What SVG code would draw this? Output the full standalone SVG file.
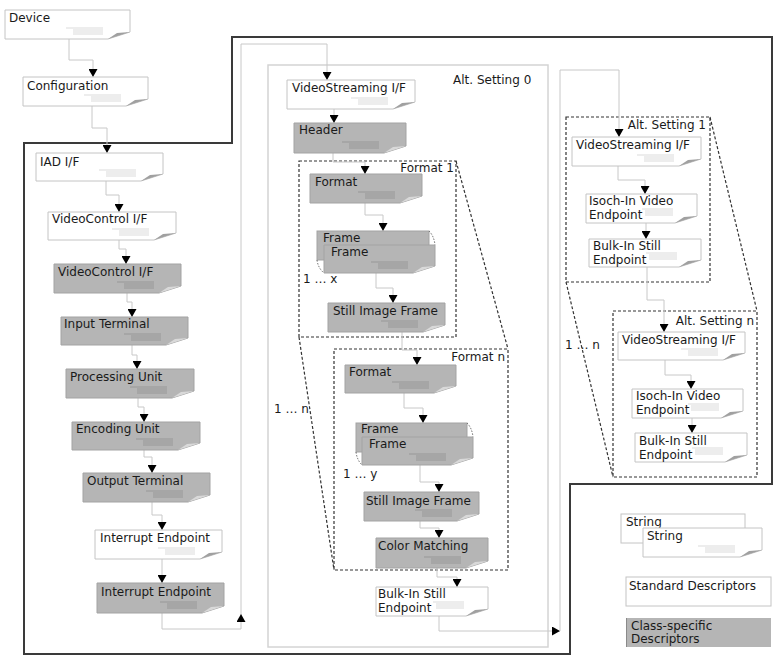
<svg xmlns="http://www.w3.org/2000/svg" width="777" height="659" viewBox="0 0 777 659">
<defs>
<style>
.t{font-family:"DejaVu Sans",Verdana,sans-serif;font-size:12px;fill:#1a1a1a}
.w{fill:#fff;stroke:#c4c4c4;stroke-width:1}
.g{fill:#b5b5b5;stroke:#a3a3a3;stroke-width:1}
.fw{fill:#a0a0a0}
.fg{fill:#d9d9d9}
.sw{fill:none;stroke:#c4c4c4;stroke-width:0.6}
.sg{fill:none;stroke:#858585;stroke-width:0.6}
.c{fill:none;stroke:#c8c8c8;stroke-width:1}
.d{fill:none;stroke:#333;stroke-width:1.2;stroke-dasharray:3 2}
.dt{fill:none;stroke:#444;stroke-width:0.8;stroke-dasharray:1.5 1.5}
</style>
<marker id="arr" viewBox="0 0 8 9" refX="8" refY="4.5" markerWidth="8" markerHeight="9" markerUnits="userSpaceOnUse" orient="auto">
<path d="M0,0 L8,4.5 L0,9 Z" fill="#000"/>
</marker>
</defs>
<rect x="0" y="0" width="777" height="659" fill="#fff"/>

<g id="frames">
<path d="M24 143 H232 V37 H772 V484 H570 V654 H24 Z" fill="none" stroke="#3a3a3a" stroke-width="2"/>
<rect x="268" y="65" width="280" height="582" fill="none" stroke="#d4d4d4" stroke-width="1.5"/>
<rect class="d" x="299" y="161" width="157" height="176"/>
<rect class="d" x="334" y="349" width="174" height="221"/>
<rect class="d" x="566" y="117" width="144" height="165"/>
<rect class="d" x="613" y="311" width="144" height="166"/>
<path class="d" d="M456 161 L508 349 M299 337 L334 570 M710 117 L757 311 M566 282 L613 477"/>
<text class="t" x="453" y="84">Alt. Setting 0</text>
<text class="t" x="454" y="172" text-anchor="end">Format 1</text>
<text class="t" x="505" y="361" text-anchor="end">Format n</text>
<text class="t" x="706" y="129" text-anchor="end">Alt. Setting 1</text>
<text class="t" x="754" y="325" text-anchor="end">Alt. Setting n</text>
<text class="t" x="274" y="413">1 … n</text>
<text class="t" x="565" y="349">1 … n</text>
<text class="t" x="303" y="283">1 … x</text>
<text class="t" x="343" y="478">1 … y</text>
</g>

<g id="connectors">
<path class="c" marker-end="url(#arr)" d="M69 39 V60 H93 V77"/>
<path class="c" marker-end="url(#arr)" d="M92 106 V128 H107 V153"/>
<path class="c" marker-end="url(#arr)" d="M106 181 V195 H119 V212"/>
<path class="c" marker-end="url(#arr)" d="M119 240 V249 H126 V264"/>
<path class="c" marker-end="url(#arr)" d="M127 293 V302 H132 V317"/>
<path class="c" marker-end="url(#arr)" d="M132 345 V355 H137 V369"/>
<path class="c" marker-end="url(#arr)" d="M138 398 V407 H144 V422"/>
<path class="c" marker-end="url(#arr)" d="M144 450 V457 H152 V473"/>
<path class="c" marker-end="url(#arr)" d="M152 502 V515 H162 V530"/>
<path class="c" marker-end="url(#arr)" d="M162 559 V583"/>
<path class="c" marker-end="url(#arr)" d="M162 613 V629 H241 V614"/>
<path class="c" marker-end="url(#arr)" d="M241 614 V44 H327 V80"/>
<path class="c" marker-end="url(#arr)" d="M334 109 V123"/>
<path class="c" marker-end="url(#arr)" d="M333 153 V162 H365 V174"/>
<path class="c" marker-end="url(#arr)" d="M365 203 V215 H383 V231"/>
<path class="c" marker-end="url(#arr)" d="M376 273 V288 H393 V303"/>
<path class="c" marker-end="url(#arr)" d="M402 332 V350 H417 V365"/>
<path class="c" marker-end="url(#arr)" d="M404 393 V408 H423 V423"/>
<path class="c" marker-end="url(#arr)" d="M420 465 V482 H439 V492"/>
<path class="c" marker-end="url(#arr)" d="M420 521 V528 H439 V538"/>
<path class="c" marker-end="url(#arr)" d="M437 568 V577 H457 V587"/>
<path class="c" marker-end="url(#arr)" d="M439 616 V631 H560"/>
<path class="c" marker-end="url(#arr)" d="M560 631 V70 H619 V137"/>
<path class="c" marker-end="url(#arr)" d="M618 166 V180 H645 V194"/>
<path class="c" marker-end="url(#arr)" d="M646 223 V239"/>
<path class="c" marker-end="url(#arr)" d="M647 267 V300 H664 V332"/>
<path class="c" marker-end="url(#arr)" d="M665 360 V375 H691 V389"/>
<path class="c" marker-end="url(#arr)" d="M692 418 V433"/>
</g>

<g id="device">
<path class="w" d="M5 10 H130 V32 L108 39 H5 Z"/><path class="fw" d="M108 39 L117 33 L130 32 Z"/>
<path class="sw" d="M66 28 H103 M73 30 H103 M73 32 H103 M73 34 H103"/>
<text class="t" x="9" y="22">Device</text>
</g>
<g id="configuration">
<path class="w" d="M23 77 H148 V99 L126 106 H23 Z"/><path class="fw" d="M126 106 L135 100 L148 99 Z"/>
<path class="sw" d="M84 95 H121 M91 97 H121 M91 99 H121 M91 101 H121"/>
<text class="t" x="27" y="90">Configuration</text>
</g>
<g id="iad">
<path class="w" d="M36 153 H163 V174 L141 181 H36 Z"/><path class="fw" d="M141 181 L150 175 L163 174 Z"/>
<path class="sw" d="M99 170 H136 M106 172 H136 M106 174 H136 M106 176 H136"/>
<text class="t" x="40" y="166">IAD I/F</text>
</g>
<g id="vc-std">
<path class="w" d="M48 212 H176 V233 L154 240 H48 Z"/><path class="fw" d="M154 240 L163 234 L176 233 Z"/>
<path class="sw" d="M112 229 H149 M119 231 H149 M119 233 H149 M119 235 H149"/>
<text class="t" x="52" y="223">VideoControl I/F</text>
</g>
<g id="vc-cs">
<path class="g" d="M54 264 H181 V286 L159 293 H54 Z"/><path class="fg" d="M159 293 L168 287 L181 286 Z"/>
<path class="sg" d="M117 282 H154 M124 284 H154 M124 286 H154 M124 288 H154"/>
<text class="t" x="58" y="276">VideoControl I/F</text>
</g>
<g id="input-terminal">
<path class="g" d="M61 317 H188 V338 L166 345 H61 Z"/><path class="fg" d="M166 345 L175 339 L188 338 Z"/>
<path class="sg" d="M124 334 H161 M131 336 H161 M131 338 H161 M131 340 H161"/>
<text class="t" x="64" y="328">Input Terminal</text>
</g>
<g id="processing-unit">
<path class="g" d="M66 369 H194 V391 L172 398 H66 Z"/><path class="fg" d="M172 398 L181 392 L194 391 Z"/>
<path class="sg" d="M130 387 H167 M137 389 H167 M137 391 H167 M137 393 H167"/>
<text class="t" x="70" y="381">Processing Unit</text>
</g>
<g id="encoding-unit">
<path class="g" d="M72 422 H200 V443 L178 450 H72 Z"/><path class="fg" d="M178 450 L187 444 L200 443 Z"/>
<path class="sg" d="M136 439 H173 M143 441 H173 M143 443 H173 M143 445 H173"/>
<text class="t" x="76" y="433">Encoding Unit</text>
</g>
<g id="output-terminal">
<path class="g" d="M83 473 H210 V495 L188 502 H83 Z"/><path class="fg" d="M188 502 L197 496 L210 495 Z"/>
<path class="sg" d="M146 491 H183 M153 493 H183 M153 495 H183 M153 497 H183"/>
<text class="t" x="87" y="485">Output Terminal</text>
</g>
<g id="interrupt-std">
<path class="w" d="M95 530 H222 V552 L200 559 H95 Z"/><path class="fw" d="M200 559 L209 553 L222 552 Z"/>
<path class="sw" d="M158 548 H195 M165 550 H195 M165 552 H195 M165 554 H195"/>
<text class="t" x="100" y="542">Interrupt Endpoint</text>
</g>
<g id="interrupt-cs">
<path class="g" d="M97 583 H224 V606 L202 613 H97 Z"/><path class="fg" d="M202 613 L211 607 L224 606 Z"/>
<path class="sg" d="M160 602 H197 M167 604 H197 M167 606 H197 M167 608 H197"/>
<text class="t" x="101" y="596">Interrupt Endpoint</text>
</g>

<g id="vs-alt0">
<path class="w" d="M287 80 H415 V102 L393 109 H287 Z"/><path class="fw" d="M393 109 L402 103 L415 102 Z"/>
<path class="sw" d="M351 98 H388 M358 100 H388 M358 102 H388 M358 104 H388"/>
<text class="t" x="292" y="92">VideoStreaming I/F</text>
</g>
<g id="header">
<path class="g" d="M294 123 H406 V146 L384 153 H294 Z"/><path class="fg" d="M384 153 L393 147 L406 146 Z"/>
<path class="sg" d="M342 142 H379 M349 144 H379 M349 146 H379 M349 148 H379"/>
<text class="t" x="299" y="134">Header</text>
</g>
<g id="format1">
<path class="g" d="M310 174 H422 V196 L400 203 H310 Z"/><path class="fg" d="M400 203 L409 197 L422 196 Z"/>
<path class="sg" d="M358 192 H395 M365 194 H395 M365 196 H395 M365 198 H395"/>
<text class="t" x="315" y="186">Format</text>
</g>
<g id="frame1">
<rect class="g" x="317" y="231" width="112" height="29"/>
<path class="dt" d="M429 231 Q434 236 435 245 M317 260 Q318 268 324 273"/>
<text class="t" x="323" y="242">Frame</text>
<path class="g" d="M324 245 H435 V266 L413 273 H324 Z"/><path class="fg" d="M413 273 L422 267 L435 266 Z"/>
<path class="sg" d="M371 262 H408 M378 264 H408 M378 266 H408 M378 268 H408"/>
<text class="t" x="331" y="256">Frame</text>
</g>
<g id="still1">
<path class="g" d="M328 303 H445 V325 L423 332 H328 Z"/><path class="fg" d="M423 332 L432 326 L445 325 Z"/>
<path class="sg" d="M381 321 H418 M388 323 H418 M388 325 H418 M388 327 H418"/>
<text class="t" x="333" y="315">Still Image Frame</text>
</g>
<g id="formatn">
<path class="g" d="M345 365 H456 V386 L434 393 H345 Z"/><path class="fg" d="M434 393 L443 387 L456 386 Z"/>
<path class="sg" d="M392 382 H429 M399 384 H429 M399 386 H429 M399 388 H429"/>
<text class="t" x="349" y="376">Format</text>
</g>
<g id="framen">
<rect class="g" x="356" y="423" width="111" height="29"/>
<path class="dt" d="M467 423 Q472 428 473 437 M356 452 Q357 460 362 465"/>
<text class="t" x="361" y="433">Frame</text>
<path class="g" d="M362 437 H473 V458 L451 465 H362 Z"/><path class="fg" d="M451 465 L460 459 L473 458 Z"/>
<path class="sg" d="M409 454 H446 M416 456 H446 M416 458 H446 M416 460 H446"/>
<text class="t" x="369" y="448">Frame</text>
</g>
<g id="stilln">
<path class="g" d="M364 492 H479 V514 L457 521 H364 Z"/><path class="fg" d="M457 521 L466 515 L479 514 Z"/>
<path class="sg" d="M415 510 H452 M422 512 H452 M422 514 H452 M422 516 H452"/>
<text class="t" x="366" y="505">Still Image Frame</text>
</g>
<g id="color-matching">
<path class="g" d="M376 538 H488 V561 L466 568 H376 Z"/><path class="fg" d="M466 568 L475 562 L488 561 Z"/>
<path class="sg" d="M424 557 H461 M431 559 H461 M431 561 H461 M431 563 H461"/>
<text class="t" x="378" y="550">Color Matching</text>
</g>
<g id="bulk-alt0">
<path class="w" d="M376 587 H488 V609 L466 616 H376 Z"/><path class="fw" d="M466 616 L475 610 L488 609 Z"/>
<path class="sw" d="M433 602 H464 M436 604 H464 M436 606 H464 M436 608 H464"/>
<text class="t" x="378" y="598">Bulk-In Still</text>
<text class="t" x="378" y="612">Endpoint</text>
</g>

<g id="vs-alt1">
<path class="w" d="M572 137 H701 V159 L679 166 H572 Z"/><path class="fw" d="M679 166 L688 160 L701 159 Z"/>
<path class="sw" d="M637 155 H674 M644 157 H674 M644 159 H674 M644 161 H674"/>
<text class="t" x="576" y="149">VideoStreaming I/F</text>
</g>
<g id="isoch-alt1">
<path class="w" d="M586 194 H697 V216 L675 223 H586 Z"/><path class="fw" d="M675 223 L684 217 L697 216 Z"/>
<path class="sw" d="M642 209 H673 M645 211 H673 M645 213 H673 M645 215 H673"/>
<text class="t" x="589" y="205">Isoch-In Video</text>
<text class="t" x="589" y="219">Endpoint</text>
</g>
<g id="bulk-alt1">
<path class="w" d="M589 239 H701 V260 L679 267 H589 Z"/><path class="fw" d="M679 267 L688 261 L701 260 Z"/>
<path class="sw" d="M646 253 H677 M649 255 H677 M649 257 H677 M649 259 H677"/>
<text class="t" x="593" y="250">Bulk-In Still</text>
<text class="t" x="593" y="264">Endpoint</text>
</g>
<g id="vs-altn">
<path class="w" d="M618 332 H745 V353 L723 360 H618 Z"/><path class="fw" d="M723 360 L732 354 L745 353 Z"/>
<path class="sw" d="M681 349 H718 M688 351 H718 M688 353 H718 M688 355 H718"/>
<text class="t" x="622" y="344">VideoStreaming I/F</text>
</g>
<g id="isoch-altn">
<path class="w" d="M632 389 H743 V411 L721 418 H632 Z"/><path class="fw" d="M721 418 L730 412 L743 411 Z"/>
<path class="sw" d="M688 404 H719 M691 406 H719 M691 408 H719 M691 410 H719"/>
<text class="t" x="636" y="400">Isoch-In Video</text>
<text class="t" x="636" y="414">Endpoint</text>
</g>
<g id="bulk-altn">
<path class="w" d="M635 433 H747 V455 L725 462 H635 Z"/><path class="fw" d="M725 462 L734 456 L747 455 Z"/>
<path class="sw" d="M692 448 H723 M695 450 H723 M695 452 H723 M695 454 H723"/>
<text class="t" x="639" y="445">Bulk-In Still</text>
<text class="t" x="639" y="459">Endpoint</text>
</g>

<g id="legend-string">
<rect class="w" x="621" y="514" width="124" height="29"/>
<text class="t" x="626" y="526">String</text>
<path class="w" d="M643 528 H762 V550 L740 557 H643 Z"/><path class="fw" d="M740 557 L749 551 L762 550 Z"/>
<path class="sw" d="M698 546 H735 M705 548 H735 M705 550 H735 M705 552 H735"/>
<text class="t" x="647" y="540">String</text>
</g>
<g id="legend-standard">
<rect class="w" x="626" y="577" width="145" height="29"/>
<text class="t" x="629" y="590">Standard Descriptors</text>
</g>
<g id="legend-class">
<rect x="626" y="618" width="145" height="29" fill="#b5b5b5"/>
<path d="M626.5 618 V647" stroke="#8a8a8a" stroke-width="1"/>
<text class="t" x="631" y="630">Class-specific</text>
<text class="t" x="631" y="643">Descriptors</text>
</g>
</svg>
